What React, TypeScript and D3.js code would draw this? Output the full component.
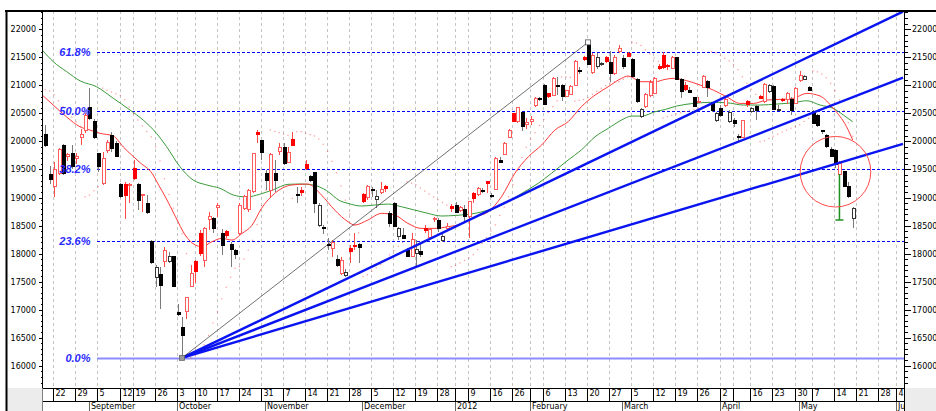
import React from 'react';
import * as d3 from 'd3';

// ---- data ----
// daily candles: [open, high, low, close]
const candles: [number, number, number, number][] = [
  [20132, 20292, 19894, 19936], [19414, 19560, 19240, 19325], [19193, 19640, 19014, 19502], [19430, 19890, 19400, 19860],
  [19936, 19950, 19400, 19430], [19728, 19790, 19650, 19775], [19790, 19935, 19500, 19545], [19700, 19790, 19600, 19740],
  [20070, 20230, 19940, 20115], [20200, 20500, 20150, 20470], [20600, 20950, 20390, 20410], [20350, 20400, 20040, 20070],
  [19790, 19800, 19460, 19550], [19254, 19820, 19230, 19700], [19835, 20030, 19800, 19975], [20110, 20170, 19820, 19870],
  [19960, 20000, 19720, 19740], [19240, 19260, 18990, 19015], [19240, 19280, 18610, 19030], [19220, 19260, 18900, 19240],
  [19520, 19670, 19320, 19340], [19240, 19260, 18780, 18955], [19030, 19060, 18750, 19045], [18896, 19050, 18700, 18730],
  [18212, 18250, 17820, 17843], [17576, 17800, 17410, 17754], [17635, 17766, 17005, 17427], [17867, 18110, 17766, 18063],
  [17857, 18030, 17830, 17945], [17945, 17955, 17410, 17421], [16950, 17100, 16880, 16920], [16684, 16862, 16140, 16530],
  [16960, 17230, 16830, 17213], [17409, 17795, 17400, 17647], [17867, 17885, 17470, 17677], [18360, 18420, 17960, 18004],
  [17885, 18480, 17766, 18449], [18610, 18750, 18420, 18660], [18630, 18660, 18360, 18450], [18830, 18900, 18660, 18860],
  [18360, 18432, 17975, 18152], [18400, 18420, 18280, 18320], [18164, 18210, 17766, 18075], [18050, 18090, 17910, 17975],
  [18360, 18900, 18330, 18866], [18806, 19045, 18776, 19015], [18780, 19150, 18750, 19130], [19103, 19800, 19080, 19787],
  [20160, 20203, 19966, 20120], [20013, 20030, 19668, 19800], [19430, 19490, 19133, 19300], [19133, 19800, 18985, 19775],
  [19430, 19670, 19100, 19300], [19817, 19966, 19757, 19894], [19894, 19966, 19580, 19609], [19621, 19894, 19610, 19799],
  [20037, 20173, 19918, 19936], [19060, 19180, 18900, 19040], [19133, 19190, 19030, 19090], [19597, 19668, 19490, 19520],
  [19383, 19400, 19280, 19300], [19442, 19460, 18717, 18895], [18509, 18895, 18480, 18866], [18460, 18509, 18350, 18440],
  [18170, 18270, 18060, 18150], [18093, 18240, 17944, 18194], [17896, 17974, 17766, 17795], [17647, 17944, 17617, 17885],
  [17600, 17718, 17590, 17659], [18093, 18152, 17825, 18033], [18152, 18370, 18063, 18125], [18164, 18180, 17825, 18104],
  [19062, 19080, 18895, 18925], [19002, 19222, 18955, 19192], [19150, 19192, 19002, 19130], [18966, 19133, 18806, 19026],
  [19085, 19282, 19062, 19150], [19190, 19230, 19100, 19160], [18720, 18760, 18470, 18540], [18900, 18925, 18470, 18480],
  [18300, 18480, 18241, 18440], [18319, 18449, 18260, 18271], [18063, 18093, 17944, 17956], [17956, 18370, 17944, 18253],
  [18004, 18240, 17766, 18075], [18040, 18210, 17944, 17990], [18450, 18509, 18360, 18410], [18290, 18440, 18260, 18425],
  [18600, 18650, 18560, 18620], [18598, 18628, 18390, 18449], [18230, 18360, 18210, 18313], [18450, 18540, 18420, 18480],
  [18848, 18880, 18746, 18806], [18866, 18925, 18746, 18740], [18764, 18840, 18740, 18818], [18788, 18866, 18568, 18660],
  [18660, 18943, 18271, 18925], [19074, 19100, 18895, 18984], [19062, 19190, 19020, 19163], [19130, 19163, 19080, 19120],
  [19282, 19290, 19080, 19255], [19040, 19074, 18984, 19030], [19145, 19728, 19133, 19698], [19663, 19728, 19615, 19627],
  [19775, 19995, 19757, 19965], [20072, 20221, 20054, 20191], [20500, 20512, 20340, 20352], [20352, 20620, 20322, 20607],
  [20512, 20530, 20191, 20263], [20300, 20420, 20230, 20330], [20360, 20450, 20300, 20400], [20649, 20800, 20620, 20768],
  [20760, 20800, 20720, 20750], [21006, 21030, 20650, 20667], [20850, 20870, 20780, 20800], [20827, 21150, 20810, 21125],
  [20990, 21150, 20830, 20976], [21006, 21030, 20720, 20810], [20810, 20920, 20800, 20900], [20845, 21006, 20830, 20976],
  [21006, 21450, 20980, 21422], [21260, 21330, 21200, 21244], [21490, 21530, 21440, 21460], [21737, 21767, 21360, 21380],
  [21226, 21580, 21210, 21541], [21333, 21570, 21300, 21500], [21365, 21420, 21340, 21395], [21500, 21520, 21400, 21422],
  [21404, 21618, 21065, 21214], [21214, 21541, 21184, 21500], [21600, 21720, 21570, 21660], [21481, 21540, 21300, 21333],
  [21560, 21600, 21510, 21520], [21464, 21480, 21150, 21167], [21107, 21125, 20690, 20708], [20441, 20600, 20420, 20572],
  [20619, 20860, 20600, 20845], [20827, 21090, 20800, 21048], [20860, 21150, 20840, 21125], [21333, 21390, 21280, 21303],
  [21541, 21600, 21300, 21321], [21360, 21380, 21280, 21330], [21303, 21520, 21290, 21500], [21499, 21510, 21090, 21107],
  [21107, 21125, 20768, 20887], [21006, 21060, 20900, 20928], [20900, 20964, 20870, 20880], [20786, 20800, 20620, 20631],
  [20700, 20786, 20690, 20720], [20964, 21185, 20946, 21166], [21066, 21095, 20800, 20964], [20690, 20708, 20530, 20548],
  [20369, 20520, 20350, 20500], [20590, 20650, 20440, 20470], [20649, 20800, 20620, 20750], [20351, 20560, 20330, 20512],
  [20381, 20410, 20260, 20322], [20090, 20130, 19995, 20072], [20072, 20381, 20060, 20381], [20708, 20740, 20620, 20666],
  [20530, 20620, 20500, 20590], [20631, 20650, 20380, 20548], [20810, 20830, 20750, 20768], [20708, 21040, 20690, 21024],
  [20887, 21024, 20870, 21006], [20988, 21006, 20560, 20572], [20560, 20650, 20540, 20565], [20750, 20780, 20700, 20726],
  [20750, 20890, 20660, 20857], [20750, 20800, 20470, 20560], [20678, 20964, 20666, 20946], [21083, 21260, 21066, 21184],
  [21107, 21184, 21090, 21150], [20964, 20990, 20900, 20916], [20530, 20560, 20310, 20322], [20470, 20490, 20250, 20292],
  [20190, 20210, 20130, 20173], [20114, 20140, 19880, 19906], [19859, 19895, 19730, 19740], [19847, 19860, 19520, 19580],
  [19419, 19650, 19400, 19609], [19460, 19480, 19180, 19192], [19204, 19282, 19000, 19014], [18628, 18836, 18450, 18806],
];

// moving averages: [day index, value]
const redMA: [number, number][] = [
  [-0.7, 20828], [2.2, 20620], [4.85, 20435], [7.9, 20260], [10.1, 20204], [12.4, 20145], [15.4, 20097], [17.7, 19900],
  [21.5, 19620], [24.2, 19430], [25.7, 19220], [27.2, 19014], [29.5, 18658], [31.7, 18331], [34, 18152], [35.5, 18122],
  [37.8, 18212], [40, 18271], [42.3, 18241], [44.6, 18360], [46.8, 18500], [49, 18806], [52, 19074], [55.8, 19222],
  [59.5, 19240], [62.6, 19044], [65.6, 18776], [68.6, 18568], [70.1, 18509], [73.1, 18598], [76.2, 18717], [79.2, 18687],
  [82.2, 18538], [85.2, 18449], [88.3, 18449], [91.3, 18479], [93.5, 18509], [97.4, 18657], [100.4, 18746], [103.4, 19014],
  [106.4, 19430], [109.5, 19728], [112.5, 19936], [115.5, 20203], [118.5, 20352], [121.5, 20619], [124.6, 20827],
  [127.6, 20976], [130.6, 21125], [132.1, 21167], [135.1, 21065], [138.2, 21065], [140.5, 21107], [142.3, 21125],
  [145.4, 21083], [148.4, 21006], [151.4, 20916], [154.4, 20797], [157.5, 20678], [160.5, 20678], [163.5, 20738],
  [166.5, 20750], [169.5, 20768], [172.6, 20857], [175.6, 20810], [178.6, 20590], [181.6, 20263], [183, 20025],
];
const greenMA: [number, number][] = [
  [-0.7, 21631], [1.8, 21422], [4.85, 21244], [7.9, 21080], [11.6, 20976], [15.4, 20770], [19.2, 20560], [22.2, 20380],
  [25.2, 20145], [27.5, 19906], [30.5, 19550], [33.5, 19312], [36.6, 19223], [39.6, 19164], [42.6, 19045], [45.6, 19010],
  [48.7, 19060], [51.7, 19140], [55, 19235], [57.7, 19241], [60.7, 19223], [63.8, 19120], [66.8, 18940], [68.6, 18895],
  [71.6, 18848], [74.7, 18866], [77.7, 18883], [80.7, 18836], [83.7, 18776], [86.7, 18717], [89.8, 18670], [92.9, 18680],
  [97.4, 18717], [100.4, 18776], [104.2, 18895], [108, 19074], [111.7, 19252], [114.7, 19430], [118.5, 19668],
  [121.5, 19847], [124.6, 20084], [127.6, 20233], [130.6, 20381], [132.9, 20452], [135.2, 20452], [138.2, 20530],
  [140.5, 20570], [143.1, 20631], [146.9, 20678], [150.7, 20697], [154.4, 20690], [158.2, 20649], [162, 20649],
  [165.8, 20667], [169.5, 20690], [172.6, 20726], [175.6, 20649], [178.6, 20590], [180.9, 20470], [183, 20351],
];

const weekLabels = ['22', '29', '5', '12', '19', '26', '3', '10', '17', '24', '31', '7', '14', '21', '28', '5', '12', '19', '28', '', '9', '16', '26', '', '6', '13', '20', '27', '5', '12', '19', '26', '2', '', '16', '23', '30', '7', '14', '21', '28', '4'];
const weekDays = [2, 7, 12, 17, 20, 25, 30, 34, 39, 44, 49, 54, 59, 64, 69, 74, 79, 84, 89, 93, 96, 101, 106, 110, 113, 118, 123, 128, 133, 138, 143, 148, 153, 156, 160, 165, 170, 174, 179, 184, 189, 193];
const monthLabels = ['September', 'October', 'November', 'December', '2012', 'February', 'March', 'April', 'May', 'June'];
const monthDays = [10, 30, 50, 72, 93, 110, 131, 153, 171, 193];

const yTicks = d3.range(16000, 22001, 500);
const yMinor = d3.range(15700, 22301, 100);

const fibLevels = [0, 0.236, 0.382, 0.5, 0.618];
const fibLabels = ['0.0%', '23.6%', '38.2%', '50.0%', '61.8%'];
const fibLow = 16140;
const fibHigh = 24960;

const trendStart = 31; // swing low day
const trendEnd = 123; // swing high day
const fanRatios = [0.618, 0.5, 0.382];

const sarStart = 20920;
const circleDay = 179.1;
const circleValue = 19460;
const markDay = 180;
const markLow = 18600;

function parabolicSAR(data: [number, number, number, number][], start: number) {
  const out: number[] = [];
  let long = false;
  let sar = start;
  let ep = data[0][2];
  let af = 0.02;
  out.push(sar);
  for (let i = 1; i < data.length; i++) {
    const [, h, l] = data[i];
    let next = sar + af * (ep - sar);
    const p1 = data[i - 1];
    const p2 = i > 1 ? data[i - 2] : data[i - 1];
    if (long) {
      next = Math.min(next, p1[2], p2[2]);
      if (l < next) { long = false; next = ep; ep = l; af = 0.02; }
      else if (h > ep) { ep = h; af = Math.min(af + 0.02, 0.2); }
    } else {
      next = Math.max(next, p1[1], p2[1]);
      if (h > next) { long = true; next = ep; ep = h; af = 0.02; }
      else if (l < ep) { ep = l; af = Math.min(af + 0.02, 0.2); }
    }
    sar = next;
    out.push(sar);
  }
  return out;
}

export default function App() {
  const L = 42.5, R = 904, T = 11, B = 388;
  const x = d3.scaleLinear().domain([-0.75, 194.4]).range([42, 903]);
  const y = d3.scaleLinear().domain([16000, 22000]).range([365.7, 29.3]);
  const sep = (d: number) => Math.round(x(d) - 0.8) + 0.5;

  const line = d3.line<[number, number]>().x(d => x(d[0])).y(d => y(d[1])).curve(d3.curveMonotoneX);
  const sar = parabolicSAR(candles, sarStart);

  const lowV = candles[trendStart][2];
  const highV = candles[trendEnd][1];
  const xEnd = x.domain()[1];

  const fontAxis = '"DejaVu Sans", Verdana, sans-serif';

  return (
    <div style={{ position: 'absolute', left: 0, top: 0 }}>
      <svg width={936} height={411} style={{ display: 'block', background: '#fff' }}>
        <defs>
          <clipPath id="plotClip"><rect x={L} y={T} width={R - L} height={B - T} /></clipPath>
          <clipPath id="axisClip"><rect x={L} y={B} width={R - L} height={411 - B} /></clipPath>
        </defs>
        {/* bottom gray areas */}
        <rect x={7} y={B} width={L - 7} height={411 - B} fill="#ececec" />
        <rect x={R} y={B} width={936 - R} height={411 - B} fill="#ececec" />

        {/* vertical dashed grid */}
        <g stroke="#c4c4c4" strokeDasharray="3,3" shapeRendering="crispEdges">
          {weekDays.map((d, i) => (
            <line key={i} x1={sep(d)} x2={sep(d)} y1={T} y2={B} />
          ))}
        </g>

        {/* fibonacci levels */}
        {fibLevels.map((r, i) => {
          const yy = Math.round(y(fibLow + r * (fibHigh - fibLow))) + 0.5;
          return (
            <g key={i}>
              {r === 0 ? (
                <line x1={97} x2={R} y1={yy} y2={yy} stroke="#8c8cff" strokeWidth={2} />
              ) : (
                <line x1={97} x2={R} y1={yy} y2={yy} stroke="#0000ff" strokeDasharray="3,2" shapeRendering="crispEdges" />
              )}
            </g>
          );
        })}

        <g clipPath="url(#plotClip)">
          {/* moving averages */}
          <path d={line(greenMA) || ''} fill="none" stroke="#3a9a3a" strokeWidth={1} />
          <path d={line(redMA) || ''} fill="none" stroke="#ff3838" strokeWidth={1} />

          {/* parabolic SAR */}
          {sar.map((v, i) => (
            <rect key={i} x={x(i) - 0.6} y={y(v) - 0.6} width={1.2} height={1.2} fill="#ff4040" opacity={0.55} />
          ))}

          {/* candles */}
          {candles.map(([o, h, l, c], i) => {
            const prev = i === 0 ? o : candles[i - 1][3];
            const up = c >= prev;
            const hollow = c > o;
            const xc = Math.round(x(i)) + 0.5;
            const top = y(Math.max(o, c));
            const bot = y(Math.min(o, c));
            const hgt = Math.max(1, bot - top);
            const wick = up ? '#ff4a4a' : '#7a7a7a';
            const fill = hollow ? '#ffffff' : up ? '#ff0000' : '#000000';
            const stroke = hollow ? (up ? '#ff5c5c' : '#333333') : fill;
            return (
              <g key={i} shapeRendering="crispEdges">
                <line x1={xc} x2={xc} y1={y(h)} y2={y(l)} stroke={wick} />
                <rect x={xc - 1.5} y={top} width={3} height={hgt} fill={fill} stroke={stroke} strokeWidth={1} />
              </g>
            );
          })}

          {/* green low marker */}
          <line x1={x(markDay)} x2={x(markDay)} y1={y(candles[markDay][0])} y2={y(markLow)} stroke="#1f8f1f" strokeWidth={1.5} />
          <line x1={x(markDay) - 4} x2={x(markDay) + 4} y1={y(markLow)} y2={y(markLow)} stroke="#1f8f1f" strokeWidth={1.5} />

          {/* fibonacci fan */}
          {fanRatios.map((r, i) => {
            const vEnd = lowV + r * (highV - lowV) * (xEnd - trendStart) / (trendEnd - trendStart);
            return (
              <line key={i} x1={x(trendStart)} y1={y(lowV)} x2={x(xEnd)} y2={y(vEnd)} stroke="#0a14f0" strokeWidth={2.4} />
            );
          })}
          <line x1={x(trendStart)} y1={y(lowV)} x2={x(trendEnd)} y2={y(highV)} stroke="#333" strokeWidth={0.7} />
          <rect x={x(trendStart) - 2.5} y={y(lowV) - 2.5} width={5} height={5} fill="#9a9a9a" stroke="#666" strokeWidth={0.8} />
          <rect x={x(trendEnd) - 2.5} y={y(highV) - 2.5} width={5} height={5} fill="#fff" stroke="#555" strokeWidth={0.8} />

          {/* circle annotation */}
          <circle cx={x(circleDay)} cy={y(circleValue)} r={35.3} fill="none" stroke="#ff4a4a" strokeWidth={1} />
        </g>

        {/* fib labels */}
        {fibLevels.map((r, i) => (
          <text key={i} x={90.5} y={y(fibLow + r * (fibHigh - fibLow)) + 4} textAnchor="end"
            fontFamily='"Liberation Sans", Arial, sans-serif' fontSize={11} fontWeight="bold" fontStyle="italic" fill="#2a2aff">
            {fibLabels[i]}
          </text>
        ))}

        {/* y axes */}
        <g shapeRendering="crispEdges" stroke="#000">
          <line x1={L} x2={L} y1={T} y2={411} />
          <line x1={R + 0.5} x2={R + 0.5} y1={T} y2={B} />
          {yMinor.map(v => {
            const major = v % 500 === 0;
            const yy = Math.round(y(v)) + 0.5;
            return (
              <g key={v}>
                <line x1={L - (major ? 4 : 2)} x2={L} y1={yy} y2={yy} />
                <line x1={R + 0.5} x2={R + 0.5 + (major ? 6 : 3)} y1={yy} y2={yy} />
              </g>
            );
          })}
        </g>
        <g fontFamily={fontAxis} fontSize={8} fill="#000">
          {yTicks.map(v => (
            <g key={v}>
              <text x={36} y={y(v) + 3} textAnchor="end">{v}</text>
              <text x={912} y={y(v) + 3}>{v}</text>
            </g>
          ))}
        </g>

        {/* x axis rows */}
        <rect x={L} y={B} width={R - L} height={411 - B} fill="#fff" />
        <g clipPath="url(#axisClip)">
          <g shapeRendering="crispEdges" stroke="#000">
            <line x1={L} x2={R} y1={B + 0.5} y2={B + 0.5} />
            <line x1={L} x2={R} y1={401.5} y2={401.5} />
            {weekDays.map((d, i) => (
              <line key={i} x1={sep(d)} x2={sep(d)} y1={B} y2={401.5} />
            ))}
            {monthDays.map((d, i) => (
              <line key={i} x1={sep(d)} x2={sep(d)} y1={401.5} y2={411} stroke="#666" />
            ))}
          </g>
          <g fontFamily={fontAxis} fontSize={8} fill="#000">
            {weekDays.map((d, i) => (
              <text key={i} x={sep(d) + 2} y={396}>{weekLabels[i]}</text>
            ))}
            {monthDays.map((d, i) => (
              <text key={i} x={sep(d) + 1.5} y={409}>{monthLabels[i]}</text>
            ))}
          </g>
        </g>

        {/* outer frame */}
        <g stroke="#000" strokeWidth={2}>
          <line x1={5} x2={936} y1={11} y2={11} />
          <line x1={6.5} x2={6.5} y1={10} y2={411} />
        </g>
        <line x1={R + 0.5} x2={R + 0.5} y1={B} y2={411} stroke="#000" shapeRendering="crispEdges" />
      </svg>
    </div>
  );
}
